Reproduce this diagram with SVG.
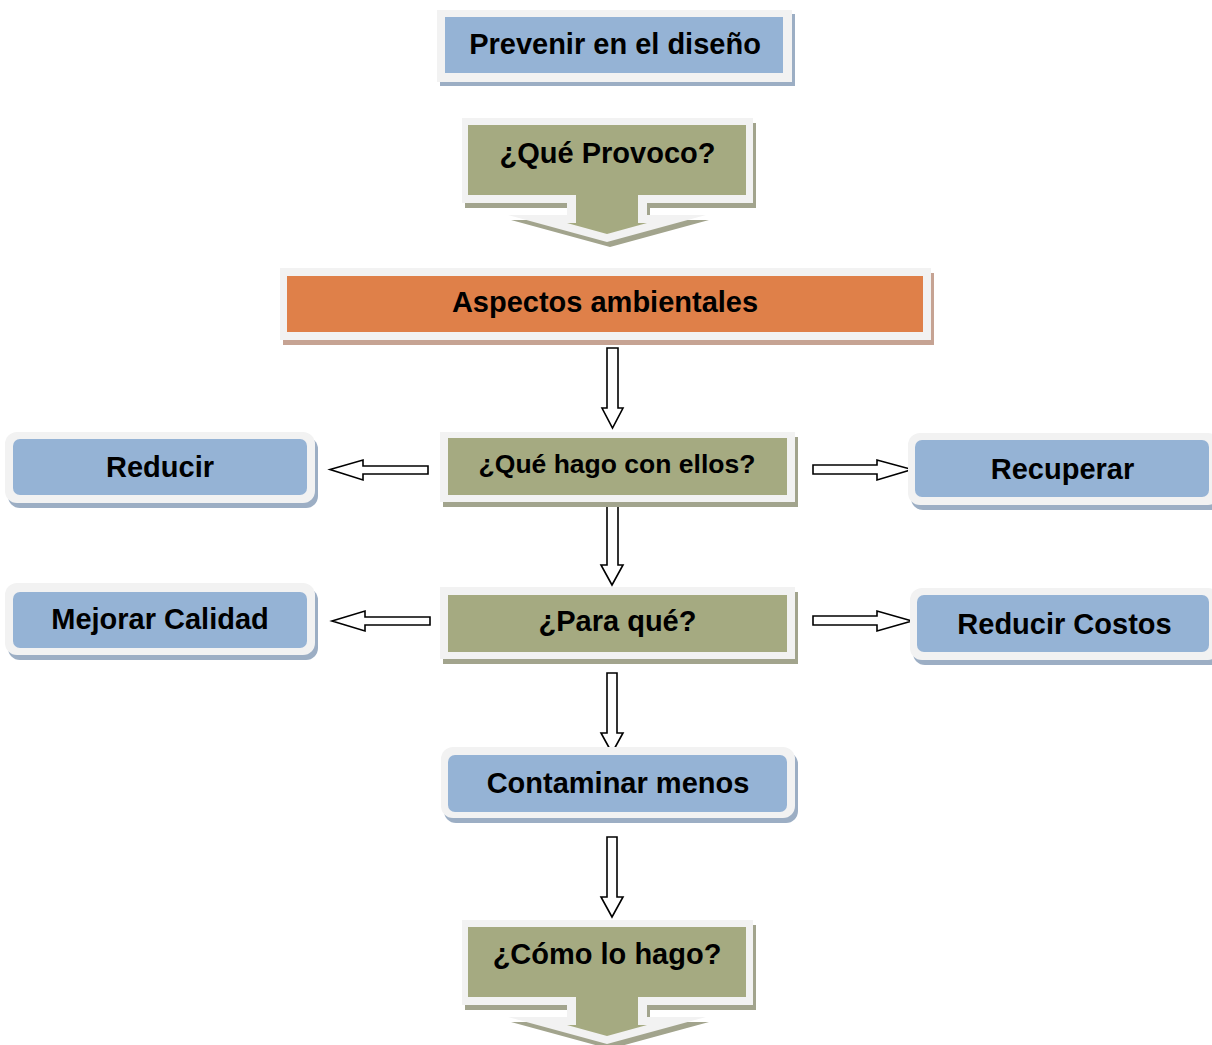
<svg xmlns="http://www.w3.org/2000/svg" width="1212" height="1045" viewBox="0 0 1212 1045">
<style>
.frame{fill:#f2f2f2;}
.blue{fill:#95b3d5;}
.olive{fill:#a5aa81;}
.orange{fill:#df8049;}
.shb{fill:#9caec4;}
.sho{fill:#a2a48d;}
.shr{fill:#c6a393;}
.arr{fill:#ffffff;stroke:#000000;stroke-width:1.6;stroke-linejoin:miter;}
text{font-family:"Liberation Sans",Arial,Helvetica,sans-serif;font-weight:bold;fill:#000000;text-anchor:middle;}
.t29{font-size:29px;}
.t27{font-size:26.5px;}
</style>
<defs>
<path id="callout-outer" d="M462,118 H753 V203 H647 V215 H706 L607,242 L508,215 H567 V203 H462 Z"/>
<path id="callout-inner" d="M468,125 H746 V195 H638 V223 H647 L607,234 L567,223 H576 V195 H468 Z"/>
</defs>
<rect width="1212" height="1045" fill="#ffffff"/>

<g id="connectors">
<path class="arr" d="M607,348 H618 V408 H623 L612.5,428 L602,408 H607 Z"/>
<path class="arr" d="M607,505 H618 V565 H623 L612,585 L601,565 H607 Z"/>
<path class="arr" d="M607,673 H617 V733 H623 L612,753 L601,733 H607 Z"/>
<path class="arr" d="M607,837 H617 V897 H623 L612,917 L601,897 H607 Z"/>
<path class="arr" d="M428,466 V474 H363 V480 L330,469.5 L363,460 V466 Z"/>
<path class="arr" d="M430,617 V625 H365 V631 L332,621 L365,611 V617 Z"/>
<path class="arr" d="M813,465 V474 H877 V480 L912,469.5 L877,460 V465 Z"/>
<path class="arr" d="M813,616 V625 H877 V631 L912,621 L877,611 V616 Z"/>
</g>

<g id="node-prevenir">
<rect class="shb" x="440" y="14" width="355" height="72"/>
<rect class="frame" x="437" y="10" width="355" height="72"/>
<rect class="blue" x="445" y="17" width="338" height="56"/>
<text class="t29" x="615" y="54">Prevenir en el diseño</text>
</g>

<g id="node-que-provoco">
<use href="#callout-outer" class="sho" transform="translate(3,5)"/>
<use href="#callout-outer" class="frame"/>
<use href="#callout-inner" class="olive"/>
<text class="t29" x="607.5" y="163">¿Qué Provoco?</text>
</g>

<g id="node-aspectos">
<rect class="shr" x="283" y="273" width="651" height="72"/>
<rect class="frame" x="280" y="268" width="651" height="72"/>
<rect class="orange" x="287" y="276" width="636" height="56"/>
<text class="t29" x="605" y="312">Aspectos ambientales</text>
</g>

<g id="node-que-hago">
<rect class="sho" x="443" y="437" width="355" height="70"/>
<rect class="frame" x="440" y="432" width="355" height="70"/>
<rect class="olive" x="448" y="438" width="339" height="57"/>
<text class="t27" x="617" y="473">¿Qué hago con ellos?</text>
</g>

<g id="node-para-que">
<rect class="sho" x="443" y="592" width="355" height="72"/>
<rect class="frame" x="440" y="587" width="355" height="72"/>
<rect class="olive" x="448" y="595" width="339" height="57"/>
<text class="t29" x="617.5" y="631">¿Para qué?</text>
</g>

<g id="node-reducir">
<rect class="shb" x="8" y="437" width="310" height="71" rx="12"/>
<rect class="frame" x="5" y="432" width="310" height="71" rx="12"/>
<rect class="blue" x="13" y="439" width="294" height="56" rx="7"/>
<text class="t29" x="160" y="477">Reducir</text>
</g>

<g id="node-mejorar">
<rect class="shb" x="8" y="588" width="310" height="72" rx="12"/>
<rect class="frame" x="5" y="583" width="310" height="72" rx="12"/>
<rect class="blue" x="13" y="592" width="294" height="56" rx="7"/>
<text class="t29" x="160" y="629">Mejorar Calidad</text>
</g>

<g id="node-recuperar">
<rect class="shb" x="911" y="438" width="312" height="72" rx="12"/>
<rect class="frame" x="908" y="433" width="312" height="72" rx="12"/>
<rect class="blue" x="915" y="440" width="294" height="57" rx="7"/>
<text class="t29" x="1062.5" y="479">Recuperar</text>
</g>

<g id="node-reducir-costos">
<rect class="shb" x="913" y="593" width="310" height="72" rx="12"/>
<rect class="frame" x="910" y="588" width="310" height="72" rx="12"/>
<rect class="blue" x="917" y="595" width="292" height="57" rx="7"/>
<text class="t29" x="1064.5" y="634">Reducir Costos</text>
</g>

<g id="node-contaminar">
<rect class="shb" x="444" y="752" width="354" height="71" rx="12"/>
<rect class="frame" x="441" y="747" width="354" height="71" rx="12"/>
<rect class="blue" x="448" y="755" width="339" height="57" rx="7"/>
<text class="t29" x="618" y="793">Contaminar menos</text>
</g>

<g id="node-como">
<g transform="translate(0,802)">
<use href="#callout-outer" class="sho" transform="translate(3,5)"/>
<use href="#callout-outer" class="frame"/>
<use href="#callout-inner" class="olive"/>
</g>
<text class="t29" x="607" y="964">¿Cómo lo hago?</text>
</g>
</svg>
